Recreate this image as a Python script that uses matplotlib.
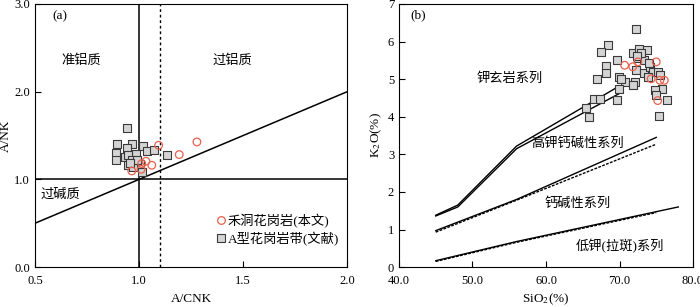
import matplotlib
matplotlib.use("Agg")
import matplotlib.pyplot as plt
from matplotlib.lines import Line2D

plt.rcParams['font.family'] = ['Liberation Serif', 'Noto Sans CJK SC', 'DejaVu Sans']
plt.rcParams['mathtext.fontset'] = 'stix'

# ---- Panel (a) data ----
a_sq_x = [0.941, 0.896, 0.965, 0.890, 0.941, 1.021, 0.890, 0.933, 0.986, 0.949,
          1.037, 1.073, 0.965, 0.949, 1.005, 1.013, 1.134, 0.973, 0.989, 0.955]
a_sq_y = [1.591, 1.408, 1.401, 1.306, 1.359, 1.382, 1.226, 1.256, 1.287, 1.275,
          1.321, 1.340, 1.226, 1.161, 1.180, 1.085, 1.275, 1.142, 1.218, 1.190]
a_ci_x = [1.094, 1.278, 1.193, 0.965, 1.010, 1.033, 1.013, 1.061]
a_ci_y = [1.389, 1.427, 1.283, 1.096, 1.115, 1.207, 1.180, 1.161]

# ---- Panel (b) data ----
b_sq_x = [72.2, 68.5, 67.5, 69.6, 68.2, 68.2, 66.9, 69.9, 70.7, 71.8,
          72.7, 73.7, 72.5, 73.4, 72.2, 73.3, 72.1, 71.8, 74.1, 74.6,
          75.2, 75.8, 74.8, 75.0, 76.5, 75.4, 69.9, 69.6, 66.5, 67.4,
          65.5, 65.9, 72.9, 73.9, 70.2, 75.5, 72.4, 74.0]
b_sq_y = [6.33, 5.92, 5.71, 5.51, 5.34, 5.16, 5.00, 5.07, 4.93, 5.69,
          5.79, 5.77, 5.55, 5.50, 5.25, 5.16, 4.93, 4.84, 5.33, 5.20,
          5.20, 4.75, 4.71, 4.57, 4.45, 4.02, 4.74, 4.44, 4.48, 4.48,
          4.23, 3.99, 5.70, 5.05, 5.00, 5.10, 5.62, 5.42]
b_ci_x = [70.7, 71.8, 72.5, 75.0, 74.3, 75.5, 76.1, 75.2]
b_ci_y = [5.37, 5.33, 5.46, 5.46, 5.01, 4.97, 4.97, 4.43]

# boundary lines (SiO2, K2O)
sho_solid_x = [45, 48, 56, 70];   sho_solid_y = [1.38, 1.65, 3.22, 4.82]
sho_dash_x = [45, 48, 56, 70];    sho_dash_y = [1.36, 1.60, 3.15, 4.62]
hk_solid_x = [45, 56, 75];        hk_solid_y = [0.97, 1.80, 3.45]
hk_dash_x = [45, 56, 75];         hk_dash_y = [0.93, 1.78, 3.27]
lk_solid_x = [45, 56, 78];        lk_solid_y = [0.17, 0.68, 1.60]
lk_dash_x = [45, 56, 75];         lk_dash_y = [0.15, 0.66, 1.45]

sq_face = '#d4d4d4'
sq_edge = '#3a3a3a'
ci_edge = '#e8604c'

fig = plt.figure(figsize=(7.0, 3.07), dpi=100)
ax1 = fig.add_axes([0.050, 0.130, 0.446, 0.857])
ax2 = fig.add_axes([0.570, 0.130, 0.420, 0.857])

fs_tick = 9
fs_lab = 9.5
ms_s = 30

# ---- (a) ----
ax1.set_xlim(0.5, 2.0)
ax1.set_ylim(0.0, 3.0)
ax1.axvline(1.0, color='black', lw=1.1)
ax1.axvline(1.1, color='black', lw=1.0, ls=(0, (2, 2)))
ax1.axhline(1.0, color='black', lw=1.1)
ax1.plot([0.5, 2.0], [0.5, 2.0], color='black', lw=1.1)
ax1.scatter(a_sq_x, a_sq_y, marker='s', s=ms_s, facecolor=sq_face, edgecolor=sq_edge,
            linewidths=0.8, zorder=3)
ax1.scatter(a_ci_x, a_ci_y, marker='o', s=ms_s, facecolor='none', edgecolor=ci_edge,
            linewidths=0.9, zorder=4)
ax1.set_xticks([0.5, 1.0, 1.5, 2.0])
ax1.set_yticks([0.0, 1.0, 2.0, 3.0])
ax1.set_xticklabels(['0.5', '1.0', '1.5', '2.0'])
ax1.set_yticklabels(['0.0', '1.0', '2.0', '3.0'])
ax1.tick_params(direction='in', labelsize=fs_tick, length=4)
ax1.tick_params(axis='x', pad=6)
ax1.set_xlabel('A/CNK', fontsize=fs_lab, labelpad=4)
ax1.set_ylabel('A/NK', fontsize=fs_lab, labelpad=2)
ax1.text(0.585, 2.86, '(a)', fontsize=fs_lab, va='center', ha='left')
ax1.text(0.72, 2.36, '准铝质', fontsize=fs_lab, ha='center', va='center')
ax1.text(1.447, 2.36, '过铝质', fontsize=fs_lab, ha='center', va='center')
ax1.text(0.62, 0.83, '过碱质', fontsize=fs_lab, ha='center', va='center')
handles = [Line2D([], [], marker='o', ls='none', markersize=5.5, markerfacecolor='none',
                  markeredgecolor=ci_edge, markeredgewidth=0.9),
           Line2D([], [], marker='s', ls='none', markersize=5.5, markerfacecolor=sq_face,
                  markeredgecolor=sq_edge, markeredgewidth=0.8)]
ax1.legend(handles, ['禾洞花岗岩(本文)', 'A型花岗岩带(文献)'], loc='lower right',
           frameon=False, fontsize=fs_lab, handletextpad=0.1, handlelength=0.8,
           borderaxespad=0.2, labelspacing=0.3, bbox_to_anchor=(1.0, 0.05))

# ---- (b) ----
ax2.set_xlim(40, 80)
ax2.set_ylim(0, 7)
ax2.plot(sho_solid_x, sho_solid_y, color='black', lw=1.0)
ax2.plot(sho_dash_x, sho_dash_y, color='black', lw=1.0)
ax2.plot(hk_solid_x, hk_solid_y, color='black', lw=1.0)
ax2.plot(hk_dash_x, hk_dash_y, color='black', lw=1.0, ls=(0, (2, 1)))
ax2.plot(lk_solid_x, lk_solid_y, color='black', lw=1.0)
ax2.plot(lk_dash_x, lk_dash_y, color='black', lw=1.0, ls=(0, (2, 1)))
ax2.scatter(b_sq_x, b_sq_y, marker='s', s=ms_s, facecolor=sq_face, edgecolor=sq_edge,
            linewidths=0.8, zorder=3)
ax2.scatter(b_ci_x, b_ci_y, marker='o', s=ms_s, facecolor='none', edgecolor=ci_edge,
            linewidths=0.9, zorder=4)
ax2.set_xticks([40, 50, 60, 70, 80])
ax2.set_xticklabels(['40.0', '50.0', '60.0', '70.0', '80.0'])
ax2.set_yticks(range(0, 8))
ax2.tick_params(direction='in', labelsize=fs_tick, length=4)
ax2.tick_params(axis='x', pad=6)
ax2.set_xlabel('SiO$_2$(%)', fontsize=fs_lab, labelpad=3)
ax2.set_ylabel('K$_2$O(%)', fontsize=fs_lab, labelpad=3)
ax2.text(41.6, 6.71, '(b)', fontsize=fs_lab, va='center', ha='left')
ax2.text(55.1, 5.01, '钾玄岩系列', fontsize=fs_lab, ha='center', va='center')
ax2.text(64.35, 3.29, '高钾钙碱性系列', fontsize=fs_lab, ha='center', va='center')
ax2.text(64.3, 1.68, '钙碱性系列', fontsize=fs_lab, ha='center', va='center')
ax2.text(70.1, 0.56, '低钾(拉斑)系列', fontsize=fs_lab, ha='center', va='center')

fig.savefig('out.png', dpi=100)
